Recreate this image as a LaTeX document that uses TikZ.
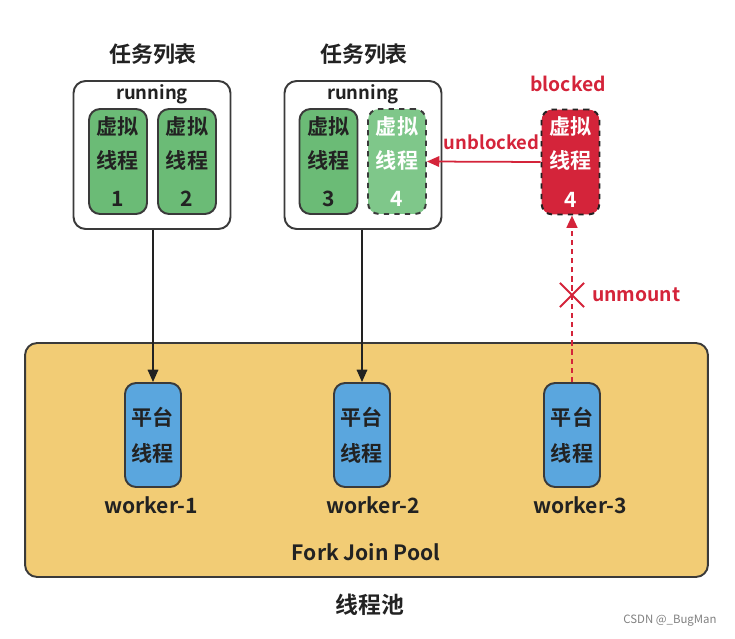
\documentclass[tikz,border=0pt]{standalone}
\usepackage{fontspec}
\setmainfont{Noto Sans CJK SC}[BoldFont={* Bold}]
\usetikzlibrary{arrows.meta,shapes.misc,positioning}

\definecolor{vgreen}{HTML}{6BBB76}
\definecolor{vgreenlt}{HTML}{7FC78A}
\definecolor{vred}{HTML}{D4243A}
\definecolor{pblue}{HTML}{5AA6DE}
\definecolor{poolyel}{HTML}{F2CC75}
\definecolor{ink}{HTML}{222222}
\definecolor{edgegray}{HTML}{3A3A3A}

\tikzset{
  txt/.style={font=\bfseries\fontsize{10.5}{12}\selectfont, text=ink},
  listbox/.style={draw=edgegray, line width=1.1pt, fill=white, rounded corners=0.24cm,
    minimum width=3.14cm, minimum height=2.96cm},
  vthread/.style={draw=edgegray, line width=1.1pt, fill=vgreen, rounded corners=0.22cm,
    minimum width=1.16cm, minimum height=2.1cm, align=center, inner sep=0pt,
    text=ink, font=\bfseries\fontsize{12}{19.3}\selectfont},
  pthread/.style={draw=edgegray, line width=1.1pt, fill=pblue, rounded corners=0.22cm,
    minimum width=1.12cm, minimum height=2.08cm, align=center, inner sep=0pt,
    text=ink, font=\bfseries\fontsize{12}{20.4}\selectfont},
  link/.style={-{Triangle[length=7pt,width=6pt]}, line width=0.85pt, ink},
  redlink/.style={-{Triangle[length=7pt,width=6pt]}, line width=1pt, vred},
}

\begin{document}
\begin{tikzpicture}[x=0.02cm, y=-0.02cm]
\useasboundingbox (0,0) rectangle (735,639);
% thread pool
\node[draw=edgegray, line width=1.1pt, fill=poolyel, rounded corners=0.24cm,
  minimum width=13.66cm, minimum height=4.68cm] (pool) at (366.5,460) {};
\node[txt, font=\bfseries\fontsize{12}{14}\selectfont] (fjp) at (366,552) {Fork Join Pool};
\node[txt, font=\bfseries\fontsize{13}{15}\selectfont] (pooltitle) at (370,605) {线程池};
\node[font=\fontsize{6.5}{8}\selectfont, text=gray] (mark) at (670,621) {CSDN @\_BugMan};

% task lists
\node[listbox] (list1) at (152,155) {};
\node[listbox] (list2) at (363,155) {};
\node[txt, font=\bfseries\fontsize{12.5}{14}\selectfont] (title1) at (153,54) {任务列表};
\node[txt, font=\bfseries\fontsize{12.5}{14}\selectfont] (title2) at (364,54) {任务列表};
\node[txt] (run1) at (152,94) {running};
\node[txt] (run2) at (363,94) {running};

% virtual threads
\node[vthread] (vt1) at (118,161.5) {虚拟\\线程\\[2.5pt]1};
\node[vthread] (vt2) at (187,161.5) {虚拟\\线程\\[2.5pt]2};
\node[vthread] (vt3) at (328.5,161.5) {虚拟\\线程\\[2.5pt]3};
\node[vthread, fill=vgreenlt, dashed, text=white] (vt4) at (397,161.5) {虚拟\\线程\\[2.5pt]4};
\node[vthread, fill=vred, dashed, draw=ink, text=white] (vtb) at (570.5,162) {虚拟\\线程\\[2.5pt]4};
\node[txt, font=\bfseries\fontsize{11}{13}\selectfont, text=vred] (blocked) at (568,84) {blocked};

% platform threads
\node[pthread] (w1) at (153,435) {平台\\线程};
\node[pthread] (w2) at (362,435) {平台\\线程};
\node[pthread] (w3) at (572,435) {平台\\线程};
\node[txt, font=\bfseries\fontsize{12}{14}\selectfont] (wl1) at (151,505) {worker-1};
\node[txt, font=\bfseries\fontsize{12}{14}\selectfont] (wl2) at (373,505) {worker-2};
\node[txt, font=\bfseries\fontsize{12}{14}\selectfont] (wl3) at (580,505) {worker-3};

% connectors
\draw[link] (list1.south -| w1.north) -- (w1.north);
\draw[link] (list2.south -| w2.north) -- (w2.north);
\draw[redlink] (vtb.west) -- (vt4.east)
  node[pos=0.43, above=3pt, txt, text=vred] (unblk) {unblocked};
\draw[redlink, line width=1.4pt, dash pattern=on 3pt off 2.2pt] (w3.north) -- (w3.north |- vtb.south);
\node[cross out, draw=vred, line width=1.2pt, minimum size=0.44cm, inner sep=0pt] (cut) at (572,295) {};
\node[txt, font=\bfseries\fontsize{11}{13}\selectfont, text=vred, right=1pt of cut] (unmt) {unmount};
\end{tikzpicture}
\end{document}
